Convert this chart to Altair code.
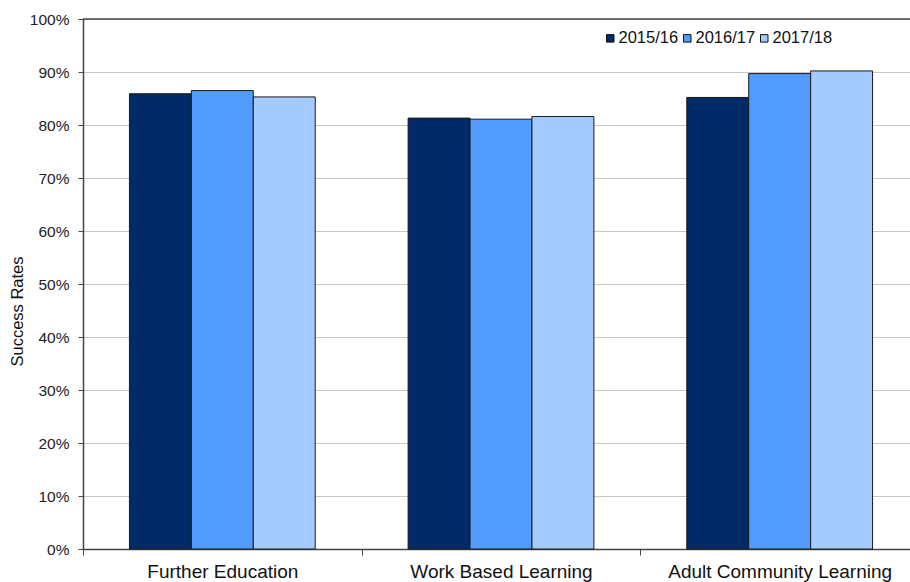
import altair as alt
import pandas as pd

# Success rates by learning type and academic year
categories = ["Further Education", "Work Based Learning", "Adult Community Learning"]
years = ["2015/16", "2016/17", "2017/18"]
rates_2015_16 = [85.9, 81.3, 85.2]
rates_2016_17 = [86.5, 81.1, 89.7]
rates_2017_18 = [85.3, 81.6, 90.2]
year_colors = ["#002B66", "#529BFF", "#A4CAFF"]
y_ticks = list(range(0, 101, 10))

rows = []
for year, series in zip(years, [rates_2015_16, rates_2016_17, rates_2017_18]):
    for cat, val in zip(categories, series):
        rows.append({"category": cat, "year": year, "rate": val})
df = pd.DataFrame(rows)

FONT = "Liberation Sans"
PLOT_W = 827
PLOT_H = 530
BAND_RANGE = 836  # category bands run slightly past the visible right edge

y_enc = alt.Y(
    "rate:Q",
    scale=alt.Scale(domain=[0, 100], nice=False),
    axis=alt.Axis(
        values=y_ticks,
        labelExpr="datum.value + '%'",
        title="Success Rates",
        titleFont=FONT,
        titleFontSize=16.5,
        titleFontWeight="normal",
        titleColor="#111111",
        titleAngle=270,
        titleX=-66,
        titleY=292,
        titleAlign="center",
        titleBaseline="middle",
        labelFont=FONT,
        labelFontSize=15.5,
        labelColor="#222222",
        labelPadding=9,
        tickSize=5,
        tickColor="#444444",
        domainColor="#444444",
        domainWidth=1.5,
        grid=True,
        gridColor="#C8C8C8",
        gridWidth=1,
    ),
)

bars = alt.Chart(df).mark_bar(stroke="#1a1a1a", strokeWidth=1).encode(
    x=alt.X(
        "category:N",
        sort=categories,
        scale=alt.Scale(range=[0, BAND_RANGE], paddingInner=0, paddingOuter=0),
        axis=alt.Axis(
            title=None,
            labelAngle=0,
            labelFont=FONT,
            labelFontSize=19,
            labelColor="#111111",
            labelPadding=7,
            labelLimit=0,
            tickBand="extent",
            tickSize=6,
            tickColor="#444444",
            domainColor="#444444",
            domainWidth=1.5,
            grid=False,
        ),
    ),
    xOffset=alt.XOffset(
        "year:N",
        sort=years,
        scale=alt.Scale(paddingInner=0, paddingOuter=0.75),
    ),
    y=y_enc,
    color=alt.Color(
        "year:N",
        sort=years,
        scale=alt.Scale(domain=years, range=year_colors),
        legend=alt.Legend(
            orient="none",
            legendX=519,
            legendY=11,
            direction="horizontal",
            title=None,
            symbolType="square",
            symbolSize=56,
            symbolStrokeColor="#111111",
            symbolStrokeWidth=1,
            symbolOpacity=1,
            labelFont=FONT,
            labelFontSize=16.5,
            labelColor="#111111",
            labelOffset=0,
            columnPadding=0,
            padding=0,
        ),
    ),
)

# dark frame line along the 100% level
top_line = alt.Chart(pd.DataFrame({"v": [100]})).mark_rule(
    color="#444444", strokeWidth=1.5
).encode(
    y=alt.Y("v:Q"),
    x=alt.value(0),
    x2=alt.value(BAND_RANGE),
)

chart = (
    alt.layer(bars, top_line)
    .properties(
        width=PLOT_W,
        height=PLOT_H,
        autosize=alt.AutoSizeParams(type="none"),
        padding={"left": 83, "top": 19, "right": 0, "bottom": 33},
        background="white",
    )
    .configure_view(stroke=None)
)

chart.save("out.html", embed_options={"renderer": "svg", "actions": False})
